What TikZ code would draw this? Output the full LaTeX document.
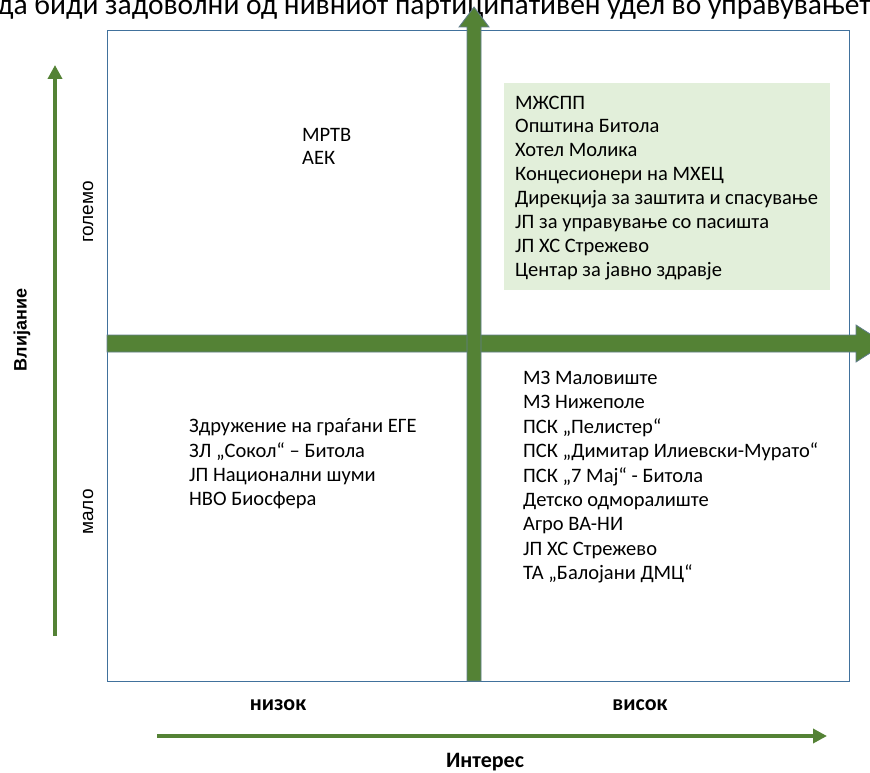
\documentclass[tikz,border=0pt]{standalone}
\usepackage{fontspec}
\setmainfont{Carlito}
\newfontfamily\arialf{Liberation Sans}
\definecolor{arrowgreen}{RGB}{84,130,53}
\definecolor{arrowedge}{RGB}{96,125,139}
\definecolor{boxblue}{RGB}{65,113,156}
\definecolor{palegreen}{RGB}{226,239,218}
\usetikzlibrary{arrows.meta}
\tikzset{
  body/.style={inner sep=0pt, anchor=north west, align=left, font=\fontsize{20.5}{23.9}\selectfont},
  bigarrow/.style={fill=arrowgreen, draw=arrowedge, line width=0.8pt},
  axisarrow/.style={draw=arrowgreen, line width=4pt, -{Triangle[length=14pt,width=14pt]}},
  sidelabel/.style={inner sep=0pt, rotate=90, font=\arialf\fontsize{19}{22}\selectfont},
  axislabel/.style={inner sep=0pt, font=\bfseries\fontsize{22}{24}\selectfont}
}
\begin{document}
\begin{tikzpicture}[x=1pt,y=-1pt]
\useasboundingbox (0,0) rectangle (870,773);
\clip (0,0) rectangle (870,773);
% cropped caption at top
\node[inner sep=0pt, anchor=base west, font=\fontsize{29.5}{30}\selectfont] (caption) at (-3,15) {да биди задоволни од нивниот партиципативен удел во управувањето};
% frame
\node[draw=boxblue, line width=1pt, minimum width=742pt, minimum height=651pt, inner sep=0pt, anchor=north west] (frame) at (107,30) {};
% green box
\node[fill=palegreen, minimum width=326pt, minimum height=207pt, inner sep=0pt, anchor=north west] (hh) at (504,83) {};
% horizontal big arrow
\draw[bigarrow] (107,335) -- (856,335) -- (856,325) -- (885,343.5) -- (856,362) -- (856,352) -- (107,352) -- cycle;
% vertical big arrow
\draw[bigarrow] (467,681) -- (467,27) -- (459,27) -- (474,7) -- (489,27) -- (481,27) -- (481,681) -- cycle;
% texts
\node[body, font=\fontsize{20.5}{23}\selectfont] (tl) at (302,128) {МРТВ\\АЕК};
\node[body] (tr) at (515,95.5) {МЖСПП\\Општина Битола\\Хотел Молика\\Концесионери на МХЕЦ\\Дирекција за заштита и спасување\\ЈП за управување со пасишта\\ЈП ХС Стрежево\\Центар за јавно здравје};
\node[body, font=\fontsize{20.5}{24.3}\selectfont] (bl) at (189,418.5) {Здружение на граѓани ЕГЕ\\ЗЛ „Сокол“ – Битола\\ЈП Национални шуми\\НВО Биосфера};
\node[body, font=\fontsize{20.5}{24.4}\selectfont] (br) at (523,371) {МЗ Маловиште\\МЗ Нижеполе\\ПСК „Пелистер“\\ПСК „Димитар Илиевски-Мурато“\\ПСК „7 Мај“ - Битола\\Детско одморалиште\\Агро ВА-НИ\\ЈП ХС Стрежево\\ТА „Балојани ДМЦ“};
% left axis
\coordinate (ly0) at (55,636);
\coordinate (ly1) at (55,65);
\draw[axisarrow] (ly0) -- (ly1);
\node[sidelabel, font=\arialf\bfseries\fontsize{18}{20}\selectfont] (vl) at (22,330) {Влијание};
\node[sidelabel] (gol) at (88,212) {големо};
\node[sidelabel] (mal) at (88,512) {мало};
% bottom axis
\coordinate (bx0) at (157,736);
\coordinate (bx1) at (827,736);
\draw[axisarrow] (bx0) -- (bx1);
\node[axislabel] (niz) at (278,705) {низок};
\node[axislabel] (vis) at (640,705) {висок};
\node[axislabel, font=\bfseries\fontsize{22}{24}\selectfont] (int) at (485,762) {Интерес};
\end{tikzpicture}
\end{document}
